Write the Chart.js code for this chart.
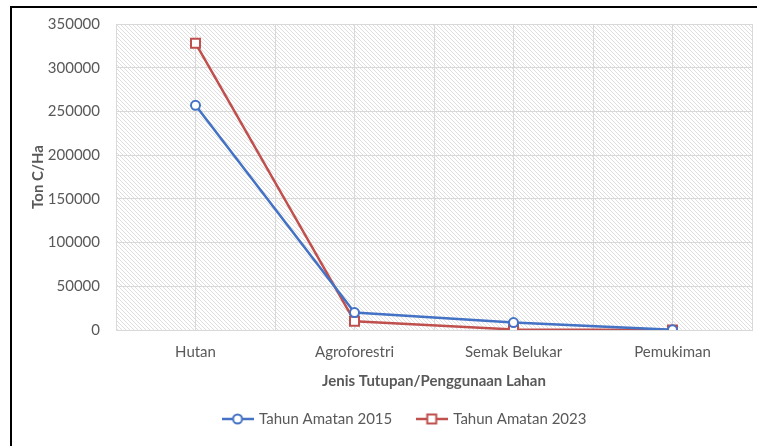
<!DOCTYPE html>
<html>
<head>
<meta charset="utf-8">
<script src="https://cdn.jsdelivr.net/npm/chart.js@4.4.1/dist/chart.umd.min.js"></script>
<style>
  html, body { margin: 0; padding: 0; background: #fff; }
  #frame { position: absolute; left: 10px; top: 6px; width: 800px; height: 500px; border: 2px solid #000; }
  #chart { position: absolute; left: 0; top: 0; }
</style>
</head>
<body>
<div id="frame"></div>
<canvas id="chart" width="757" height="446"></canvas>
<script>
/* ===== DATA ===== */
const categories = ["Hutan", "Agroforestri", "Semak Belukar", "Pemukiman"];
const values2015 = [257000, 20000, 8500, 200];
const values2023 = [328000, 10000, 600, 100];
const seriesNames = ["Tahun Amatan 2015", "Tahun Amatan 2023"];
const yTicks = [0, 50000, 100000, 150000, 200000, 250000, 300000, 350000];

const BLUE = "#4472C4";
const RED = "#C0504D";
const TEXT = "#595959";
const GRID = "#d9d9d9";
const FONT = "Lato, 'Liberation Sans', sans-serif";

/* ===== LEGEND ICONS (line + marker) ===== */
function legendIcon(color, shape) {
  const c = document.createElement("canvas");
  c.width = 32; c.height = 14;
  const g = c.getContext("2d");
  g.strokeStyle = color;
  g.lineWidth = 2.5;
  g.beginPath(); g.moveTo(0, 7); g.lineTo(32, 7); g.stroke();
  g.fillStyle = "#fff";
  g.lineWidth = 2;
  g.beginPath();
  if (shape === "circle") g.arc(16, 7, 4.5, 0, Math.PI * 2);
  else g.rect(11.5, 2.5, 9, 9);
  g.fill(); g.stroke();
  return c;
}
const icons = [legendIcon(BLUE, "circle"), legendIcon(RED, "rect")];

/* ===== HATCHED PLOT BACKGROUND ===== */
const hatchPlugin = {
  id: "hatch",
  beforeDraw(chart) {
    const { ctx, chartArea: a } = chart;
    const tile = document.createElement("canvas");
    tile.width = 4; tile.height = 4;
    const t = tile.getContext("2d");
    t.fillStyle = "#fff"; t.fillRect(0, 0, 4, 4);
    t.fillStyle = "#dedede";
    for (let i = 0; i < 4; i++) t.fillRect(i, i, 1, 1);
    ctx.save();
    ctx.fillStyle = ctx.createPattern(tile, "repeat");
    ctx.fillRect(a.left, a.top, a.right - a.left, a.bottom - a.top);
    ctx.restore();
  }
};

// nudge legend to sit where the original one does
const legendShift = {
  id: "legendShift",
  afterLayout(chart) {
    chart.legend.left += 29;
    chart.legend.right += 29;
  }
};

new Chart(document.getElementById("chart"), {
  type: "line",
  data: {
    labels: categories,
    datasets: [
      {
        label: seriesNames[0],
        data: values2015,
        borderColor: BLUE,
        backgroundColor: "#fff",
        borderWidth: 2.5,
        pointStyle: "circle",
        pointRadius: 4.5,
        pointBorderWidth: 2,
        pointBackgroundColor: "#fff",
        tension: 0
      },
      {
        label: seriesNames[1],
        data: values2023,
        borderColor: RED,
        backgroundColor: "#fff",
        borderWidth: 2.5,
        pointStyle: "rect",
        pointRadius: 6.4,
        pointBorderWidth: 2,
        pointBackgroundColor: "#fff",
        tension: 0
      }
    ]
  },
  options: {
    responsive: false,
    animation: false,
    layout: { autoPadding: false, padding: { left: 0, right: 5, top: 24, bottom: 9.5 } },
    scales: {
      x: {
        offset: true,
        grid: { offset: false, color: GRID, drawTicks: false },
        border: { color: GRID },
        ticks: { color: TEXT, font: { family: FONT, size: 15 }, padding: 13 },
        title: {
          display: true,
          text: "Jenis Tutupan/Penggunaan Lahan",
          color: TEXT,
          font: { family: FONT, size: 15, weight: "bold" },
          padding: { top: 0, bottom: -4 }
        },
        afterFit(scale) {
          scale.height = 56;
          scale.paddingLeft = 0;
          scale.paddingRight = 0;
        }
      },
      x2: {
        type: "category",
        labels: categories,
        position: "bottom",
        offset: true,
        grid: { offset: true, color: GRID, drawTicks: false },
        border: { display: false },
        ticks: { display: false },
        afterFit(scale) { scale.height = 0; }
      },
      y: {
        min: 0,
        max: 350000,
        afterBuildTicks(scale) { scale.ticks = yTicks.map(v => ({ value: v })); },
        grid: { color: GRID, drawTicks: false },
        border: { display: false },
        ticks: {
          color: TEXT,
          font: { family: FONT, size: 15 },
          padding: 16,
          callback: v => String(v)
        },
        title: {
          display: true,
          text: "Ton C/Ha",
          color: TEXT,
          font: { family: FONT, size: 15, weight: "bold" },
          padding: { top: 29, bottom: 0 }
        },
        afterFit(scale) {
          scale.width = 116;
          scale.paddingTop = 0;
          scale.paddingBottom = 0;
        }
      }
    },
    plugins: {
      legend: {
        position: "bottom",
        labels: {
          color: TEXT,
          font: { family: FONT, size: 15 },
          usePointStyle: true,
          pointStyleWidth: 28,
          padding: 25.5,
          generateLabels(chart) {
            return chart.data.datasets.map((ds, i) => ({
              text: ds.label,
              fontColor: TEXT,
              pointStyle: icons[i],
              datasetIndex: i,
              hidden: false,
              lineWidth: 0
            }));
          }
        }
      },
      tooltip: { enabled: false }
    }
  },
  plugins: [hatchPlugin, legendShift]
});
</script>
</body>
</html>
